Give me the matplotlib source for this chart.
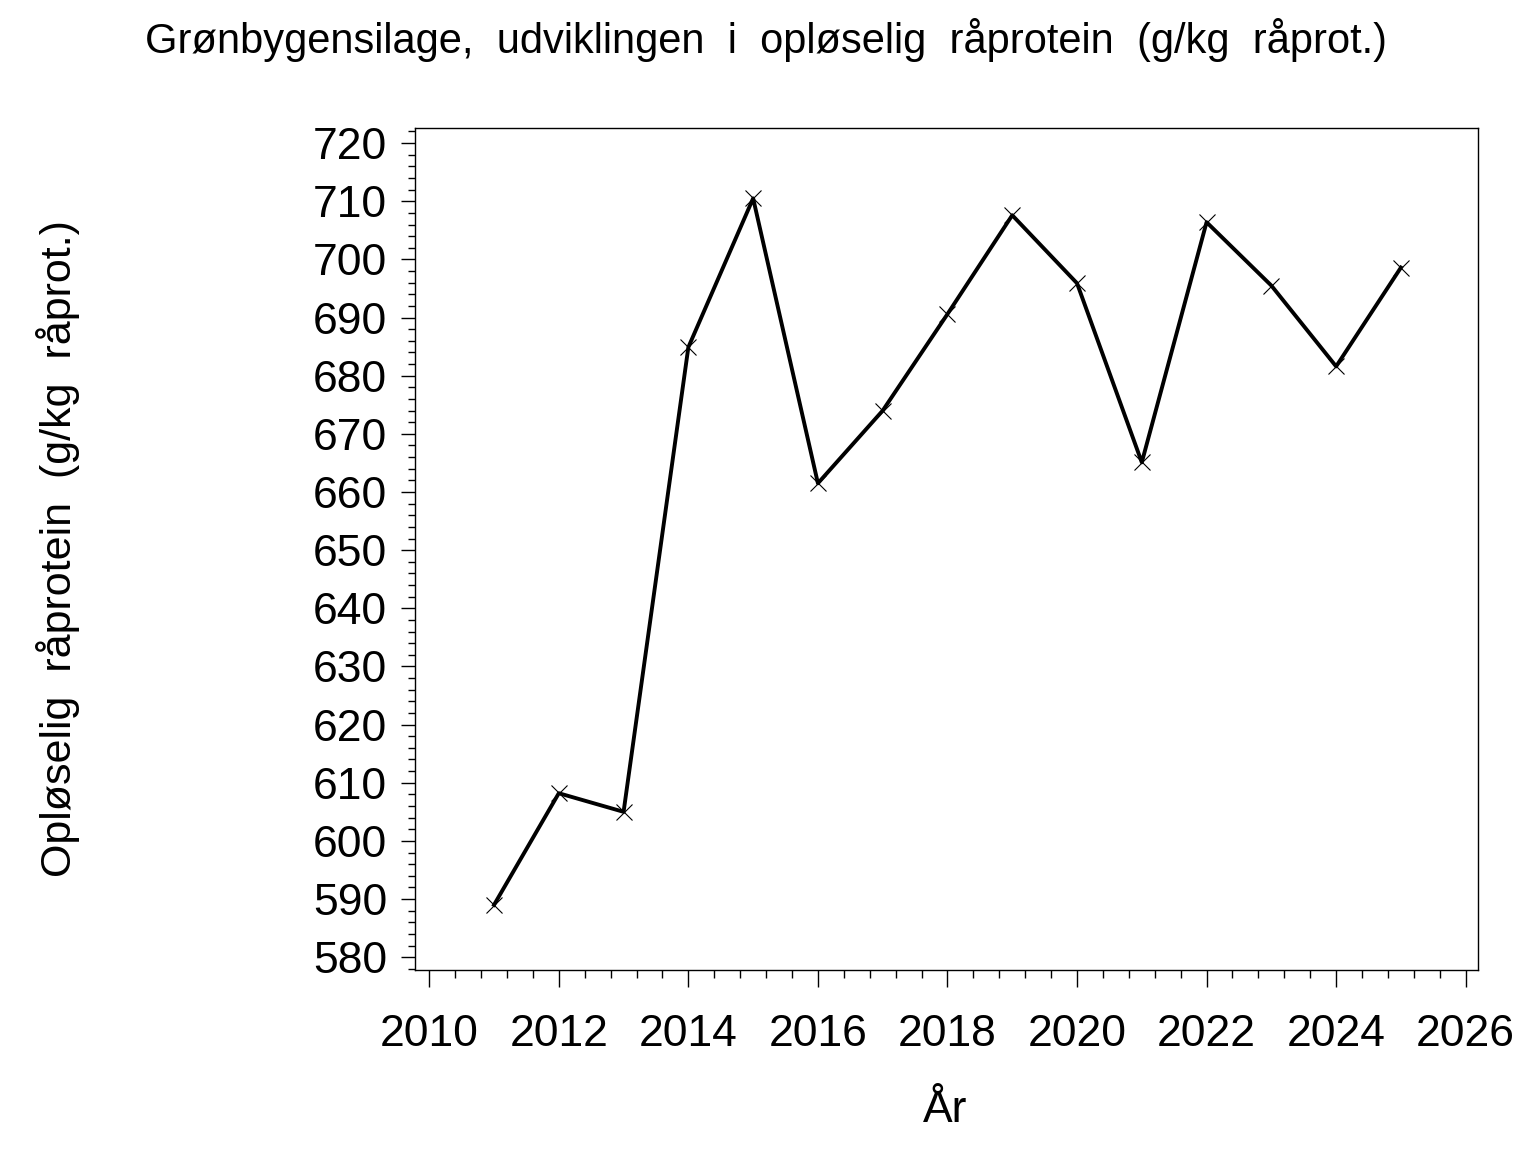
import matplotlib.pyplot as plt
from matplotlib.ticker import MultipleLocator

plt.rcParams['font.family'] = ['Liberation Sans', 'DejaVu Sans']

# data
years = [2011, 2012, 2013, 2014, 2015, 2016, 2017, 2018,
         2019, 2020, 2021, 2022, 2023, 2024, 2025]
soluble_protein = [589.0, 608.2, 605.0, 684.9, 710.5, 661.5, 674.0, 690.6,
                   707.6, 695.9, 665.1, 706.4, 695.5, 681.6, 698.6]

title = "Grønbygensilage,  udviklingen  i  opløselig  råprotein  (g/kg  råprot.)"
ylabel = "Opløselig  råprotein  (g/kg  råprot.)"
xlabel = "År"

fig = plt.figure(figsize=(15.36, 11.52), dpi=100)
ax = fig.add_axes([415 / 1536, 182 / 1152, 1063 / 1536, 842 / 1152])

ax.plot(years, soluble_protein, color='black', linewidth=2.8,
        marker='x', markersize=12, markeredgewidth=0.8)

ax.set_xlim(2009.78, 2026.19)
ax.set_ylim(577.8, 722.6)
ax.xaxis.set_major_locator(MultipleLocator(2))
ax.xaxis.set_minor_locator(MultipleLocator(0.4))
ax.yaxis.set_major_locator(MultipleLocator(10))
ax.yaxis.set_minor_locator(MultipleLocator(2))

ax.tick_params(axis='both', which='major', labelsize=32, width=1, color='black')
ax.tick_params(axis='y', which='major', length=10, pad=10)
ax.tick_params(axis='y', which='minor', length=5, width=1)
ax.tick_params(axis='x', which='major', length=12, pad=20)
ax.tick_params(axis='x', which='minor', length=6, width=1)
for s in ax.spines.values():
    s.set_linewidth(1)

fig.text(0.499, 0.965, title, ha='center', va='center', fontsize=30)
fig.text(0.038, 0.524, ylabel, ha='center', va='center', rotation=90, fontsize=31)
fig.text(0.615, 0.036, xlabel, ha='center', va='center', fontsize=32)

fig.savefig('out.png', dpi=100)
